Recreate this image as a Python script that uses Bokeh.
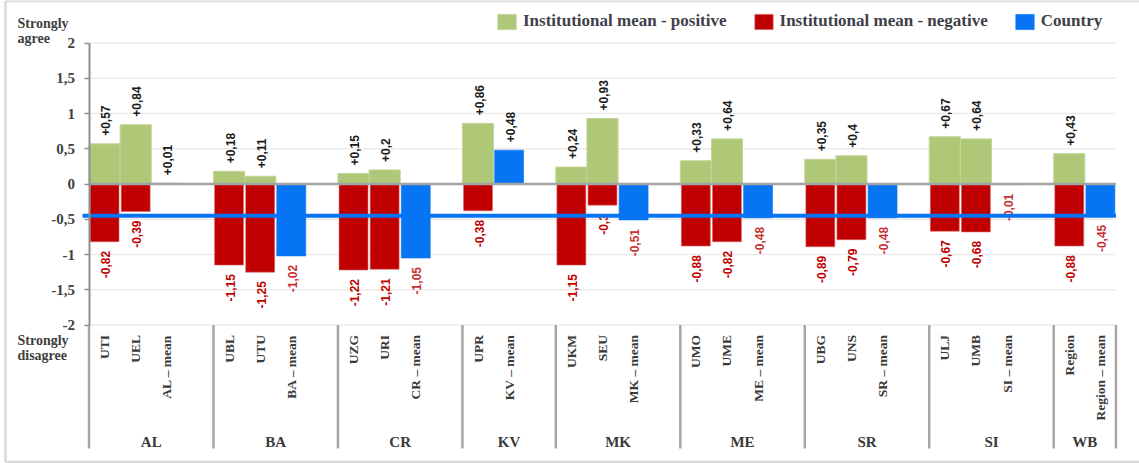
import math
from bokeh.plotting import figure
from bokeh.models import ColumnDataSource, LinearAxis, FixedTicker, Legend, LegendItem, Range1d
from bokeh.core.properties import value
from bokeh.embed import file_html
from bokeh.resources import INLINE

# ---------------- data ----------------
groups = ["AL", "BA", "CR", "KV", "MK", "ME", "SR", "SI", "WB"]
categories = ["UTI", "UEL", "AL – mean",
              "UBL", "UTU", "BA – mean",
              "UZG", "URI", "CR – mean",
              "UPR", "KV – mean",
              "UKM", "SEU", "MK – mean",
              "UMO", "UME", "ME – mean",
              "UBG", "UNS", "SR – mean",
              "ULJ", "UMB", "SI – mean",
              "Region", "Region – mean"]
category_group = ["AL", "AL", "AL", "BA", "BA", "BA", "CR", "CR", "CR", "KV", "KV",
                  "MK", "MK", "MK", "ME", "ME", "ME", "SR", "SR", "SR", "SI", "SI", "SI",
                  "WB", "WB"]
positive = [0.57, 0.84, None, 0.18, 0.11, None, 0.15, 0.20, None, 0.86, None,
            0.24, 0.93, None, 0.33, 0.64, None, 0.35, 0.40, None, 0.67, 0.64, None,
            0.43, None]
negative = [-0.82, -0.39, None, -1.15, -1.25, None, -1.22, -1.21, None, -0.38, None,
            -1.15, -0.30, None, -0.88, -0.82, None, -0.89, -0.79, None, -0.67, -0.68, None,
            -0.88, None]
country = [None, None, 0.01, None, None, -1.02, None, None, -1.05, None, 0.48,
           None, None, -0.51, None, None, -0.48, None, None, -0.48, None, None, -0.01,
           None, -0.45]
y_ticks = [-2, -1.5, -1, -0.5, 0, 0.5, 1, 1.5, 2]
y_tick_labels = ["-2", "-1,5", "-1", "-0,5", "0", "0,5", "1", "1,5", "2"]
series_names = ["Institutional mean - positive", "Institutional mean - negative", "Country"]

# ---------------- layout ----------------
W, H = 1139, 463
PAGE = 0
SLOT_PX = 31.12
X0_PAGE = 88.5
Y2_PAGE = 42.5
PX_PER_UNIT = 70.5

def px_x(page_x):
    return (page_x - X0_PAGE) / SLOT_PX

def px_y(page_y):
    return 2 - (page_y - Y2_PAGE) / PX_PER_UNIT

GREEN = "#afc878"
GREEN_EDGE = "#c2d69a"
RED = "#c00000"
BLUE = "#0774f4"
TXT = "#3a3a3a"
SERIF = "Liberation Serif"
SANS = "Liberation Sans"

# slot positions (one blank slot after each group except the last)
xs = []
group_start = []
pos = 0
for gi, g in enumerate(groups):
    members = [c for c, cg in zip(categories, category_group) if cg == g]
    group_start.append(pos)
    for i in range(len(members)):
        xs.append(pos + i + 0.5)
    pos += len(members) + (1 if gi < len(groups) - 1 else 0)
n_slots = pos
group_bounds = group_start + [n_slots]
group_centers = [(a + b) / 2 for a, b in zip(group_bounds[:-1], group_bounds[1:])]

def fmt(v):
    s = f"{v:+.2f}".rstrip("0").rstrip(".")
    return s.replace(".", ",")

p = figure(width=W, height=H, output_backend="svg", toolbar_location=None,
           x_range=Range1d(px_x(PAGE), px_x(PAGE + W)),
           y_range=Range1d(px_y(PAGE + H), px_y(PAGE)),
           x_axis_type=None, y_axis_type=None, min_border=0)
p.outline_line_color = None
p.background_fill_color = "white"
p.border_fill_color = "white"

# picture frame (left, top, bottom edges)
fx0, fx1 = px_x(5), px_x(W + 5)
fy0, fy1 = px_y(461.5), px_y(0.5)
p.segment(x0=[fx0, fx0, fx0], y0=[fy0, fy1, fy0], x1=[fx0, fx1, fx1], y1=[fy1, fy1, fy0],
          line_color="#d9d9d9", line_width=2.5)

# grid lines
grid_vals = [t for t in y_ticks if t != 0]
p.segment(x0=[0] * len(grid_vals), x1=[n_slots] * len(grid_vals), y0=grid_vals, y1=grid_vals,
          line_color="#ebebeb", line_width=1.5)

# bars
pos_src = ColumnDataSource(dict(x=[x for x, v in zip(xs, positive) if v is not None],
                                top=[v for v in positive if v is not None]))
neg_src = ColumnDataSource(dict(x=[x for x, v in zip(xs, negative) if v is not None],
                                top=[v for v in negative if v is not None]))
cty_src = ColumnDataSource(dict(x=[x for x, v in zip(xs, country) if v is not None],
                                top=[v for v in country if v is not None]))
r_pos = p.vbar(x="x", top="top", bottom=0, width=1.0, source=pos_src,
               fill_color=GREEN, line_color=GREEN_EDGE, line_width=1)
r_neg = p.vbar(x="x", top="top", bottom=0, width=0.93, source=neg_src,
               fill_color=RED, line_color="#d86a6a", line_width=0.6)
r_cty = p.vbar(x="x", top="top", bottom=0, width=0.93, source=cty_src,
               fill_color=BLUE, line_color=BLUE, line_width=0.6)

# zero line
p.segment(x0=[0], x1=[n_slots], y0=[0], y1=[0], line_color="#a3a3a3", line_width=2.5)

# data labels
def add_labels(xv, vals, color_pos, color_neg):
    up_x = [x for x, v in zip(xv, vals) if v is not None and v >= 0]
    up_v = [v for v in vals if v is not None and v >= 0]
    dn_x = [x for x, v in zip(xv, vals) if v is not None and v < 0]
    dn_v = [v for v in vals if v is not None and v < 0]
    if up_x:
        p.text(x=up_x, y=up_v, text=[fmt(v) for v in up_v], angle=math.pi / 2,
               text_align="left", text_baseline="middle", y_offset=-8, x_offset=1,
               text_font=value(SANS), text_font_style="bold", text_font_size="12px",
               text_color=color_pos)
    if dn_x:
        p.text(x=dn_x, y=dn_v, text=[fmt(v) for v in dn_v], angle=math.pi / 2,
               text_align="right", text_baseline="middle", y_offset=9, x_offset=1,
               text_font=value(SANS), text_font_style="bold", text_font_size="12px",
               text_color=color_neg)

add_labels(xs, positive, "#1a1a1a", RED)
add_labels(xs, negative, "#1a1a1a", RED)
add_labels(xs, country, "#1a1a1a", "#c83030")

# region mean line
region_mean = country[categories.index("Region – mean")]
p.segment(x0=[px_x(82)], x1=[n_slots], y0=[region_mean], y1=[region_mean],
          line_color=BLUE, line_width=4)

# y axis
yaxis = LinearAxis(fixed_location=0, bounds=(-2, 2), ticker=FixedTicker(ticks=y_ticks),
                   major_label_overrides={t: l for t, l in zip(y_ticks, y_tick_labels)})
yaxis.axis_line_color = "#8f8f8f"
yaxis.axis_line_width = 2
yaxis.major_tick_line_color = "#8f8f8f"
yaxis.major_tick_line_width = 1.5
yaxis.major_tick_out = 5
yaxis.major_tick_in = 0
yaxis.minor_tick_line_color = None
yaxis.major_label_standoff = 9
yaxis.major_label_text_font = SERIF
yaxis.major_label_text_font_style = "bold"
yaxis.major_label_text_font_size = "15px"
yaxis.major_label_text_color = "#404040"
p.add_layout(yaxis, "left")

# category area: dividers, labels
p.segment(x0=group_bounds, x1=group_bounds, y0=[-2] * len(group_bounds),
          y1=[px_y(448)] * len(group_bounds), line_color="#a6a6a6", line_width=2.5)
p.text(x=xs, y=[-2] * len(xs), text=categories, angle=math.pi / 2,
       text_align="right", text_baseline="middle", y_offset=10,
       text_font=value(SERIF), text_font_style="bold", text_font_size="13.5px",
       text_color=TXT)
p.text(x=group_centers, y=[px_y(441)] * len(groups), text=groups,
       text_align="center", text_baseline="middle",
       text_font=value(SERIF), text_font_style="bold", text_font_size="15px",
       text_color=TXT)

# side captions
p.text(x=[px_x(17), px_x(17)], y=[px_y(15), px_y(332)],
       text=["Strongly\nagree", "Strongly\ndisagree"],
       text_align="left", text_baseline="top", text_line_height=1.05,
       text_font=value(SERIF), text_font_style="bold", text_font_size="14px",
       text_color="#404040")

# legend
legend = Legend(items=[LegendItem(label=series_names[0], renderers=[r_pos]),
                       LegendItem(label=series_names[1], renderers=[r_neg]),
                       LegendItem(label=series_names[2], renderers=[r_cty])],
                orientation="horizontal", location=(495, H - 31),
                glyph_width=23, glyph_height=19, label_height=19,
                label_standoff=5, spacing=25, padding=0, margin=0,
                label_text_font=SERIF, label_text_font_style="bold",
                label_text_font_size="17px", label_text_color="#40404a",
                background_fill_alpha=0, border_line_color=None)
p.add_layout(legend, "center")

open("out.html", "w").write(file_html(p, INLINE))
